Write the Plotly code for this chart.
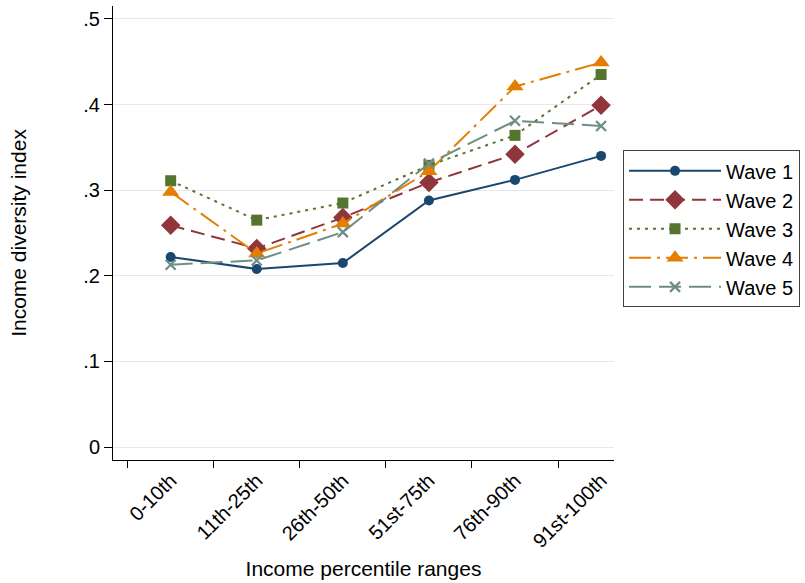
import plotly.graph_objects as go

# Income percentile groups along the x axis
categories = ["0-10th", "11th-25th", "26th-50th", "51st-75th", "76th-90th", "91st-100th"]

# Income diversity index by wave
wave1 = [0.222, 0.208, 0.215, 0.288, 0.312, 0.340]
wave2 = [0.259, 0.232, 0.268, 0.309, 0.342, 0.399]
wave3 = [0.311, 0.265, 0.285, 0.329, 0.364, 0.435]
wave4 = [0.298, 0.226, 0.261, 0.322, 0.421, 0.449]
wave5 = [0.213, 0.218, 0.251, 0.331, 0.381, 0.375]

wave_names = ["Wave 1", "Wave 2", "Wave 3", "Wave 4", "Wave 5"]

ytick_vals = [0, 0.1, 0.2, 0.3, 0.4, 0.5]
ytick_text = ["0", ".1", ".2", ".3", ".4", ".5"]

FONT = "Liberation Sans, Arial, sans-serif"

styles = [
    dict(color="#1a476f", dash="solid", symbol="circle", size=10, lw=0),
    dict(color="#90353b", dash="14px,7px", symbol="diamond", size=15, lw=0),
    dict(color="#55752f", dash="3px,5px", symbol="square", size=11, lw=0),
    dict(color="#e37e00", dash="22px,6px,3px,6px", symbol="triangle-up", size=15, lw=0),
    dict(color="#6e8e84", dash="22px,8px", symbol="x-thin", size=10, lw=2.2),
]

x_pos = list(range(len(categories)))

fig = go.Figure()
for name, values, st in zip(wave_names, [wave1, wave2, wave3, wave4, wave5], styles):
    marker = dict(symbol=st["symbol"], size=st["size"], color=st["color"])
    if st["lw"]:
        marker["line"] = dict(color=st["color"], width=st["lw"])
    fig.add_trace(go.Scatter(
        x=x_pos, y=values, name=name, mode="lines+markers",
        line=dict(color=st["color"], width=2, dash=st["dash"]),
        marker=marker,
    ))

fig.update_layout(
    width=805, height=583,
    margin=dict(l=113, r=190, t=6, b=123),
    paper_bgcolor="white", plot_bgcolor="white",
    font=dict(family=FONT, size=20, color="black"),
    showlegend=True,
    legend=dict(
        x=1.016, y=0.682, xanchor="left", yanchor="top",
        bordercolor="#404040", borderwidth=1, bgcolor="white",
        font=dict(family=FONT, size=20, color="black"),
        itemwidth=92, tracegroupgap=0,
    ),
    xaxis=dict(
        range=[-0.67, 5.15],
        tickmode="array", tickvals=x_pos, ticktext=categories,
        tickangle=-45, ticks="",
        showgrid=False, zeroline=False,
        showline=True, linecolor="black", linewidth=1,
        minor=dict(tickmode="linear", tick0=-0.5, dtick=1, ticks="outside",
                   ticklen=7, tickcolor="black", tickwidth=1, showgrid=False),
        title=dict(text="Income percentile ranges",
                   font=dict(family=FONT, size=21), standoff=10),
    ),
    yaxis=dict(
        range=[-0.015, 0.515],
        tickmode="array", tickvals=ytick_vals, ticktext=ytick_text,
        ticks="outside", ticklen=8, tickcolor="black", tickwidth=1,
        showgrid=True, gridcolor="#e8e8e8", gridwidth=1,
        zeroline=False,
        showline=True, linecolor="black", linewidth=1,
        title=dict(text="Income diversity index",
                   font=dict(family=FONT, size=21), standoff=50),
    ),
)

fig.write_html("out.html")
